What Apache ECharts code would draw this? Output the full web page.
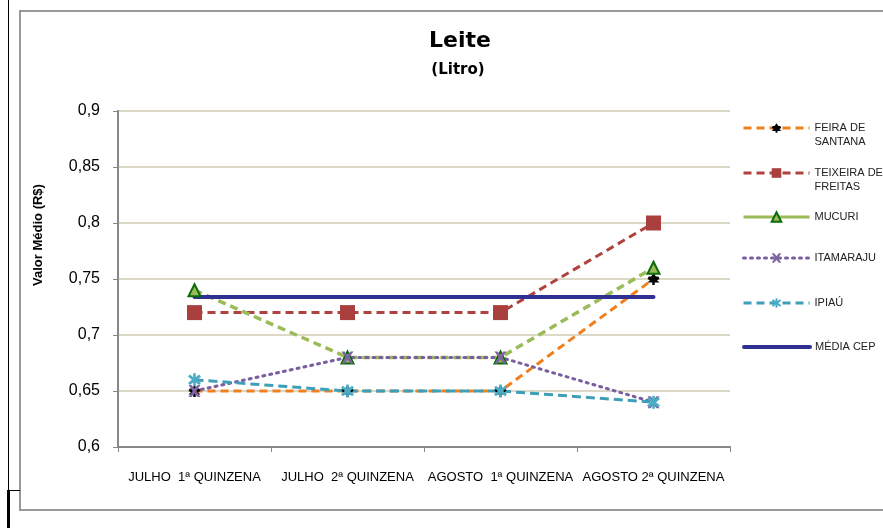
<!DOCTYPE html>
<html>
<head>
<meta charset="utf-8">
<script src="https://cdn.jsdelivr.net/npm/echarts@6/dist/echarts.min.js"></script>
<style>html,body{margin:0;padding:0;background:#fff;}#c{width:883px;height:528px;}</style>
</head>
<body>
<div id="c"></div>
<script>
var categories = ['JULHO  1ª QUINZENA', 'JULHO  2ª QUINZENA', 'AGOSTO  1ª QUINZENA', 'AGOSTO 2ª QUINZENA'];
var feiraDeSantana = [0.65, 0.65, 0.65, 0.75];
var teixeiraDeFreitas = [0.72, 0.72, 0.72, 0.80];
var mucuri = [0.74, 0.68, 0.68, 0.76];
var itamaraju = [0.65, 0.68, 0.68, 0.64];
var ipiau = [0.66, 0.65, 0.65, 0.64];
var mediaCep = [0.734, 0.734, 0.734, 0.734];
var yTicks = ['0,6', '0,65', '0,7', '0,75', '0,8', '0,85', '0,9'];

var names = ['FEIRA DE\nSANTANA', 'TEIXEIRA DE\nFREITAS', 'MUCURI', 'ITAMARAJU', 'IPIAÚ', 'MÉDIA CEP'];

var clubPath = 'path://M5,0 L7,3 L9,3 L10,5 L8,6 L10,8 L6,8 L6,10 L4,10 L4,8 L0,8 L2,6 L0,5 L1,3 L3,3 Z';
var xPath = 'path://M0,0 L2.5,0 L5,3 L7.5,0 L10,0 L6.5,5 L10,10 L7.5,10 L5,7 L2.5,10 L0,10 L3.5,5 Z';
var starPath = 'path://M4,0 L6,0 L6,3 L8.5,1 L10,2.5 L7,5 L10,7.5 L8.5,9 L6,7 L6,10 L4,10 L4,7 L1.5,9 L0,7.5 L3,5 L0,2.5 L1.5,1 L4,3 Z';

var chart = echarts.init(document.getElementById('c'), null, {renderer: 'canvas'});

function legendAt(name, iconY, twoLine, lineStyle, itemStyle) {
  var item = {name: name, lineStyle: lineStyle};
  if (itemStyle) item.itemStyle = itemStyle;
  return {
    orient: 'vertical',
    left: 737,
    top: twoLine ? iconY - 26 : iconY - 12,
    itemWidth: 66,
    itemHeight: 12,
    selectedMode: false,
    data: [item],
    formatter: function (n) { return n.indexOf('\n') >= 0 ? '\u00a0\n' + n : n; },
    textStyle: {
      fontFamily: 'Liberation Sans, Arial, sans-serif',
      fontSize: 11,
      color: '#222',
      lineHeight: 14
    }
  };
}

var option = {
  animation: false,
  backgroundColor: '#fff',
  title: [{
    text: 'Leite',
    left: 455,
    top: 25,
    textAlign: 'center',
    textStyle: {fontFamily: 'DejaVu Sans', fontWeight: 'bold', fontSize: 22, color: '#000'}
  }, {
    text: '(Litro)',
    left: 453,
    top: 58,
    textAlign: 'center',
    textStyle: {fontFamily: 'DejaVu Sans', fontWeight: 'bold', fontSize: 15, color: '#000'}
  }],
  legend: [
    legendAt(names[0], 128, true, {width: 3, type: [8, 5]}),
    legendAt(names[1], 173, true, {width: 3, type: [8, 5]}),
    legendAt(names[2], 217, false, {width: 3, type: 'solid'}),
    legendAt(names[3], 258, false, {width: 3, type: [2, 5]}),
    legendAt(names[4], 303, false, {width: 3, type: [8, 5]}),
    legendAt(names[5], 347, false, {width: 4, type: 'solid'}, {opacity: 0})
  ],
  grid: {left: 118, right: 153, top: 111, bottom: 81, containLabel: false},
  xAxis: {
    type: 'category',
    data: categories,
    boundaryGap: true,
    axisLine: {lineStyle: {color: '#888', width: 2}},
    axisTick: {show: true, length: 5, lineStyle: {color: '#888'}},
    axisLabel: {margin: 24, fontFamily: 'Liberation Sans Narrow, Arial Narrow, sans-serif', fontSize: 13, color: '#000', interval: 0}
  },
  yAxis: {
    type: 'value',
    min: 0.6,
    max: 0.9,
    interval: 0.05,
    axisLine: {show: true, lineStyle: {color: '#888', width: 2}},
    axisTick: {show: true, length: 5, lineStyle: {color: '#888'}},
    splitLine: {lineStyle: {color: '#dcd8c8', width: 2}},
    axisLabel: {
      margin: 18,
      fontFamily: 'Liberation Sans, Arial, sans-serif',
      fontSize: 16,
      color: '#000',
      formatter: function (v) { return yTicks[Math.round((v - 0.6) / 0.05)]; }
    }
  },
  series: [{
    name: names[0], type: 'line', data: feiraDeSantana,
    symbol: clubPath, symbolSize: 12,
    itemStyle: {color: '#000'},
    lineStyle: {color: '#F07F1E', width: 3, type: [8, 5]}
  }, {
    name: names[1], type: 'line', data: teixeiraDeFreitas,
    symbol: 'rect', symbolSize: 15,
    itemStyle: {color: '#A9403D'},
    lineStyle: {color: '#B0413E', width: 3, type: [8, 5]}
  }, {
    name: names[2], type: 'line', data: mucuri,
    symbol: 'triangle', symbolSize: 12,
    itemStyle: {color: '#9BBB59', borderColor: '#0B6B0B', borderWidth: 2},
    lineStyle: {color: '#9BBB59', width: 3.5, type: [8, 5]}
  }, {
    name: names[3], type: 'line', data: itamaraju,
    symbol: xPath, symbolSize: 12,
    itemStyle: {color: '#8064A2'},
    lineStyle: {color: '#7A5FA0', width: 3, type: [2, 5], cap: 'round'}
  }, {
    name: names[4], type: 'line', data: ipiau,
    symbol: starPath, symbolSize: 13,
    itemStyle: {color: '#4BACC6'},
    lineStyle: {color: '#3E9FB8', width: 3, type: [9, 5]}
  }, {
    name: names[5], type: 'line', data: mediaCep,
    symbol: 'none',
    itemStyle: {color: '#2E3192'},
    lineStyle: {color: '#2E3192', width: 4, cap: 'round'}
  }],
  graphic: [
    {type: 'rect', shape: {x: 20, y: 11, width: 880, height: 499}, style: {fill: 'none', stroke: '#999', lineWidth: 2}, silent: true},
    {type: 'line', shape: {x1: 8.5, y1: 0, x2: 8.5, y2: 490}, style: {stroke: '#000', lineWidth: 1}, silent: true},
    {type: 'line', shape: {x1: 8, y1: 490.5, x2: 20, y2: 490.5}, style: {stroke: '#000', lineWidth: 1}, silent: true},
    {type: 'line', shape: {x1: 8.5, y1: 490, x2: 8.5, y2: 528}, style: {stroke: '#000', lineWidth: 3}, silent: true},
    {type: 'text', x: 38, y: 235, rotation: Math.PI / 2, silent: true,
      style: {text: 'Valor Médio (R$)', align: 'center', verticalAlign: 'middle',
        font: 'bold 13px "Liberation Sans Narrow", "Arial Narrow", sans-serif', fill: '#000'}}
  ]
};
chart.setOption(option);
</script>
</body>
</html>
